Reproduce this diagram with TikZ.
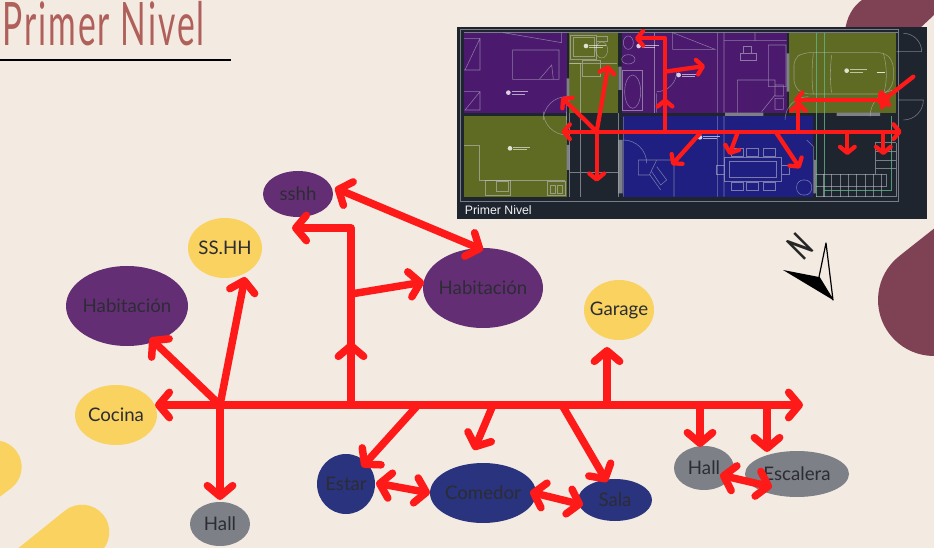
\documentclass[tikz,border=0pt]{standalone}
\usepackage{fontspec}
\setmainfont{Lato}
\newfontfamily\plfont{Liberation Sans}
\usetikzlibrary{arrows.meta}
\definecolor{bgc}{HTML}{F3EAE2}
\definecolor{maroon}{HTML}{7F4255}
\definecolor{yel}{HTML}{F9D25F}
\definecolor{pur}{HTML}{642E74}
\definecolor{blu}{HTML}{2A337E}
\definecolor{gry}{HTML}{7D8087}
\definecolor{redc}{HTML}{FF1A1A}
\definecolor{ttl}{HTML}{B0605A}
\definecolor{lbl}{HTML}{2C2C34}
\definecolor{pbg}{HTML}{1F252E}
\definecolor{ppur}{HTML}{4B1A6E}
\definecolor{poli}{HTML}{5F6B22}
\definecolor{pblu}{HTML}{1E1F80}
\definecolor{pln}{HTML}{C6C6D2}
\definecolor{pgrn}{HTML}{5FB58A}
\tikzset{
  arr/.style={draw=redc,line width=5.6pt,line cap=round,line join=round,-{Straight Barb[round,length=8pt,width=19pt,line width=5.6pt]}},
  arrb/.style={draw=redc,line width=5.6pt,line cap=round,line join=round,{Straight Barb[round,length=8pt,width=19pt,line width=5.6pt]}-{Straight Barb[round,length=8pt,width=19pt,line width=5.6pt]}},
  parr/.style={draw=redc,line width=3.2pt,line cap=round,line join=round,-{Straight Barb[round,length=4.5pt,width=11pt,line width=3.2pt]}},
  parrb/.style={draw=redc,line width=3.2pt,line cap=round,line join=round,{Straight Barb[round,length=4.5pt,width=11pt,line width=3.2pt]}-{Straight Barb[round,length=4.5pt,width=11pt,line width=3.2pt]}},
  pl/.style={draw=pln,draw opacity=.55,line width=.4pt},
  pg/.style={draw=pgrn,draw opacity=.8,line width=.5pt}
}
\newcommand{\bub}[7]{% name, x, y, rx, ry, colour, text
  \fill[#6] (#2,#3) ellipse [x radius=#4, y radius=#5];
  \node[text=lbl,font=\fontsize{14pt}{16pt}\selectfont,inner sep=0pt] (#1) at (#2,#3) {#7};
}
\newcommand{\rmk}[2]{% small room tag in the plan
  \fill[white,opacity=.8] (#1,#2) circle [radius=7];
  \draw[white,draw opacity=.6,line width=.4pt] (#1+10,#2-3) -- ++(50,0) (#1+10,#2+4) -- ++(40,0);
}
\begin{document}
\begin{tikzpicture}[x=.75pt,y=-.75pt]
\useasboundingbox (0,0) rectangle (934,548);
\begin{scope}
\clip (0,0) rectangle (934,548);
\fill[bgc] (0,0) rectangle (934,548);
% decorative blobs
\fill[maroon] (845,32) .. controls (846,18) and (853,6) .. (862,0) -- (934,0) -- (934,15) -- (918,30) -- cycle;
\draw[maroon,line width=84pt,line cap=round] (934,300) -- (1020,232);
\draw[yel,line width=40pt,line cap=round] (-5,467) -- (-45,497);
\draw[yel,line width=41pt,line cap=round] (82,532) -- (10,590);
\end{scope}
% title
\node[anchor=base west,inner sep=0pt,text=ttl,font=\fontsize{45pt}{50pt}\selectfont,xscale=.56] (title) at (2,46) {\addfontfeature{LetterSpace=6}Primer Nivel};
\coordinate (ruleA) at (0,60);
\coordinate (ruleB) at (231,60);
\draw[black,line width=1.5pt] (ruleA) -- (ruleB);
% plan
\fill[pbg] (457,27) rectangle (927,219);
\begin{scope}[shift={(450,20)},x=.25pt,y=-.25pt]
\fill[ppur] (42,38) rectangle (350,278);
\fill[poli] (358,38) rectangle (505,278);
\fill[ppur] (515,38) rectangle (1010,278);
\fill[poli] (1018,38) rectangle (1338,278);
\fill[poli] (42,288) rectangle (350,530);
\fill[pblu] (520,288) rectangle (1090,530);
\fill[gry] (350,175) rectangle (358,250) (350,375) rectangle (358,450) (505,140) rectangle (515,210) (505,360) rectangle (518,520) (1010,100) rectangle (1018,215) (825,278) rectangle (940,288) (1160,278) rectangle (1290,288) (1090,420) rectangle (1098,520);
% outer frame and walls
\draw[pl] (30,28) rectangle (1345,543) (42,38) -- (1345,38);
\draw[pl] (358,280) -- (358,530) (505,280) -- (505,530) (390,290) -- (390,530) (358,458) -- (505,458);
% door swings
\draw[pl] (280,275) arc (180:90:70) -- (350,275);
\draw[pl] (280,300) arc (180:270:70) -- (350,300);
\draw[pl] (520,360) arc (270:360:70) (620,220) -- (620,278) (620,215) arc (90:0:60);
\draw[pl] (1005,300) arc (180:270:70);
\draw[pl] (1260,290) arc (180:270:80);
\draw[pl] (1340,95) -- (1415,95) arc (0:-90:55) (1345,240) -- (1420,240) arc (0:90:60);
% bedroom 1
\draw[pl] (160,38) -- (335,68) -- (335,38) (188,90) rectangle (327,178) (268,178) -- (305,135) -- (310,178) (42,55) -- (90,55) -- (45,150) (42,150) -- (90,150) -- (90,55) (42,215) -- (90,215) -- (45,270) -- (90,270) -- (90,215);
% kitchen
\draw[pl] (42,376) -- (88,376) -- (88,480) -- (345,480);
\draw[pl] (105,480) rectangle (180,525) (140,485) rectangle (175,515) (292,485) rectangle (345,525) (300,495) rectangle (315,520) (322,495) rectangle (338,520);
% bath 1
\draw[pl] (362,45) rectangle (440,118) (370,52) rectangle (432,108) (358,130) -- (500,130) (398,122) rectangle (450,168) (440,50) rectangle (472,65);
\draw[pl] (455,90) ellipse [x radius=18, y radius=24];
\draw[pl] (360,130) -- (390,130) -- (390,280);
% bath 2
\draw[pl] (518,150) rectangle (578,270);
\draw[pl] (548,215) ellipse [x radius=24, y radius=50];
\draw[pl] (535,68) ellipse [x radius=15, y radius=20] (535,118) ellipse [x radius=20, y radius=14];
\draw[pl] (612,38) -- (612,278);
% bedroom 2
\draw[pl] (668,38) -- (795,88) -- (668,88) -- cycle (802,38) -- (802,278) (822,38) -- (822,278) (822,62) -- (1010,62) (915,38) -- (915,62);
\draw[pl] (870,100) rectangle (918,122) (880,78) rectangle (905,100);
\draw[pl] (955,75) -- (1008,75) -- (1008,200) -- (955,200) -- cycle (862,180) -- (975,180) -- (975,225) -- (935,275) (862,180) -- (862,278) (975,195) rectangle (1000,228) (975,235) rectangle (1000,268);
% garage with car
\draw[pg] (1100,38) -- (1100,530) (1122,38) -- (1122,530);
\draw[pl,rounded corners=5pt] (1032,115) -- (1060,98) -- (1305,98) -- (1330,125) -- (1330,195) -- (1305,222) -- (1060,222) -- (1032,200) -- cycle;
\draw[pl] (1090,100) .. controls (1085,140) and (1085,190) .. (1090,222) (1145,105) .. controls (1140,140) and (1140,190) .. (1145,218) (1300,100) .. controls (1312,140) and (1312,190) .. (1300,222);
\draw[white,draw opacity=.8,line width=.5pt] (1280,158) -- (1305,158);
% living / dining
\draw[pl] (565,420) -- (672,420) (565,420) -- (565,465) -- (598,465) (620,420) -- (598,465) (600,465) -- (632,510) (620,440) -- (650,480) -- (632,495) -- (605,455) (672,420) -- (672,530) (802,288) -- (802,530) (822,288) -- (822,530);
\draw[pl] (822,412) rectangle (994,485) (838,425) rectangle (980,472) (800,435) rectangle (822,462) (994,435) rectangle (1018,462);
\foreach \cx in {862,908,958} {\draw[pl] (\cx-18,385) rectangle (\cx+18,410) (\cx-18,488) rectangle (\cx+18,510);}
\draw[pl,rounded corners=5pt] (1040,480) rectangle (1085,525);
\draw[pl] (520,290) -- (520,530) (1070,360) -- (1090,380) -- (1090,420);
% stairs and right side
\draw[pl] (1098,462) -- (1275,462) -- (1275,368) -- (1338,368) (1098,530) -- (1338,530) -- (1338,368) (1275,395) -- (1338,395) (1275,420) -- (1338,420) (1275,445) -- (1338,445) (1275,462) -- (1310,462) -- (1310,500) -- (1098,500);
\foreach \sx in {1120,1145,1170,1195,1220,1245,1270,1295} {\draw[pl] (\sx,462) -- (\sx,530);}
\draw[pg] (1325,288) -- (1325,510) -- (1122,510);
% room tags
\rmk{175}{218}\rmk{180}{385}\rmk{408}{78}\rmk{566}{78}\rmk{686}{165}\rmk{750}{352}\rmk{1190}{152}
\node[anchor=base west,inner sep=0pt,text=white!90!gry,font=\plfont\fontsize{9.2pt}{10pt}\selectfont] (plabel) at (44,585) {Primer Nivel};
% plan arrows
\draw[parrb] (335,335) -- (1355,335);
\draw[parr] (440,335) -- (335,232);
\draw[parr] (440,335) -- (475,135);
\draw[parr] (440,335) -- (440,485);
\draw[parr] (645,335) -- (645,235);
\draw[parr] (645,335) -- (645,55) -- (555,55);
\draw[parr] (645,155) -- (765,138);
\draw[parr] (750,340) -- (665,435);
\draw[parr] (862,340) -- (838,405);
\draw[parr] (980,340) -- (1050,445);
\draw[parr] (1045,335) -- (1045,248);
\draw[parrb] (1032,240) -- (1320,240);
\draw[parr] (1390,170) -- (1285,252);
\draw[parr] (1192,340) -- (1192,405);
\draw[parr] (1300,340) -- (1300,405);
\end{scope}
% compass
\coordinate (cpA) at (783,270);
\coordinate (cpB) at (819,277);
\coordinate (cpC) at (833,300);
\coordinate (cpD) at (826,243);
\fill[black] (cpA) -- (cpB) -- (cpC) -- cycle;
\draw[black,line width=.9pt,line join=round,fill=bgc] (cpD) -- (cpB) -- (cpC) -- cycle;
\node[inner sep=0pt,rotate=45,xscale=.6,font=\bfseries\fontsize{27pt}{29pt}\selectfont,text=black!85] (north) at (800,246) {N};
% bubbles
\bub{sshh}{298}{194}{35}{23}{pur}{sshh}
\bub{ss}{225}{248}{37}{30}{yel}{SS.HH}
\bub{habL}{127}{306}{61}{40}{pur}{Habitación}
\bub{habR}{483}{288}{60}{40}{pur}{Habitación}
\bub{gar}{619}{310}{35}{30}{yel}{Garage}
\bub{coc}{116}{415}{41}{30}{yel}{Cocina}
\bub{est}{346}{484}{29}{30}{blu}{Estar}
\bub{com}{483}{493}{53}{30}{blu}{Comedor}
\bub{sal}{615}{500}{37}{21}{blu}{Sala}
\bub{halR}{704}{468}{30}{22}{gry}{Hall}
\bub{esc}{797}{474}{52}{23}{gry}{Escalera}
\bub{halB}{220}{524}{30}{22}{gry}{Hall}
% connector ends and junctions
\coordinate (mainL) at (155,405);
\coordinate (mainR) at (803,405);
\coordinate (jA) at (220,405);
\coordinate (jB) at (351,405);
\coordinate (jBm) at (351,342);
\coordinate (jBb) at (351,294);
\coordinate (jBt) at (351,228);
\coordinate (jC) at (418,405);
\coordinate (jD) at (493,405);
\coordinate (jE) at (562,405);
\coordinate (jF) at (607,405);
\coordinate (jG) at (700,405);
\coordinate (jH) at (767,405);
\coordinate (tHabL) at (150,338);
\coordinate (tSS) at (245,277);
\coordinate (tHalB) at (220,500);
\coordinate (tSshhU) at (292,228);
\coordinate (tHabRb) at (424,282);
\coordinate (tSshhA) at (335,188);
\coordinate (tHabRa) at (483,250);
\coordinate (tGar) at (607,347);
\coordinate (tEst) at (362,467);
\coordinate (tCom) at (474,450);
\coordinate (tSal) at (607,482);
\coordinate (tHalR) at (700,447);
\coordinate (tEsc) at (767,452);
\coordinate (eA) at (376,483);
\coordinate (cA) at (430,493);
\coordinate (cB) at (530,492);
\coordinate (sA) at (583,505);
\coordinate (hA) at (720,475);
\coordinate (eB) at (772,487);
% connectors
\draw[arrb] (mainL) -- (mainR);
\draw[arr] (jA) -- (tHabL);
\draw[arr] (jA) -- (tSS);
\draw[arr] (jA) -- (tHalB);
\draw[arr] (jB) -- (jBm);
\draw[arr] (jB) -- (jBt) -- (tSshhU);
\draw[arr] (jBb) -- (tHabRb);
\draw[arrb] (tSshhA) -- (tHabRa);
\draw[arr] (jF) -- (tGar);
\draw[arr] (jC) -- (tEst);
\draw[arr] (jD) -- (tCom);
\draw[arr] (jE) -- (tSal);
\draw[arr] (jG) -- (tHalR);
\draw[arr] (jH) -- (tEsc);
\draw[arrb] (eA) -- (cA);
\draw[arrb] (cB) -- (sA);
\draw[arrb] (hA) -- (eB);
\end{tikzpicture}
\end{document}
